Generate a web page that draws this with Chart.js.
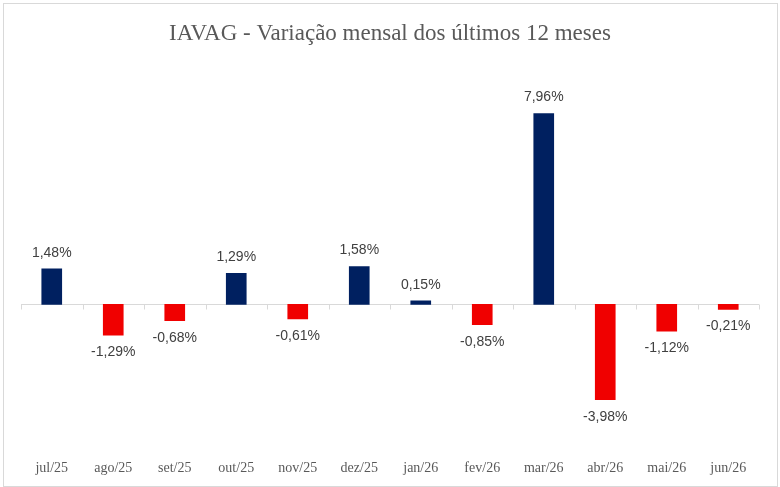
<!DOCTYPE html>
<html>
<head>
<meta charset="utf-8">
<script src="https://cdn.jsdelivr.net/npm/chart.js@4"></script>
<style>
  html, body { margin: 0; padding: 0; background: #fff; }
  #wrap { position: relative; width: 780px; height: 487px; }
  #frame { position: absolute; left: 3px; top: 3px; width: 773px; height: 482px; border: 1px solid #d9d9d9; pointer-events: none; }
</style>
</head>
<body>
<div id="wrap">
  <canvas id="iavagChart" width="780" height="487"></canvas>
  <div id="frame"></div>
</div>
<script>
const months = ['jul/25', 'ago/25', 'set/25', 'out/25', 'nov/25', 'dez/25', 'jan/26', 'fev/26', 'mar/26', 'abr/26', 'mai/26', 'jun/26'];
const variacao = [1.48, -1.29, -0.68, 1.29, -0.61, 1.58, 0.15, -0.85, 7.96, -3.98, -1.12, -0.21];

const NAVY = '#002060';
const RED = '#F00000';

// zero line + little ticks between categories, like the Excel axis
const zeroAxis = {
  id: 'zeroAxis',
  beforeDatasetsDraw(chart) {
    const { ctx, chartArea, scales } = chart;
    const y0 = Math.round(scales.y.getPixelForValue(0)) + 0.5;
    const x = scales.x;
    const step = (x.getPixelForValue(1) - x.getPixelForValue(0));
    ctx.save();
    ctx.strokeStyle = '#d9d9d9';
    ctx.lineWidth = 1;
    ctx.beginPath();
    ctx.moveTo(chartArea.left, y0);
    ctx.lineTo(chartArea.right, y0);
    for (let i = 0; i <= months.length; i++) {
      const xp = Math.round(x.getPixelForValue(0) - step / 2 + i * step) + 0.5;
      ctx.moveTo(xp, y0);
      ctx.lineTo(xp, y0 + 5);
    }
    ctx.stroke();
    ctx.restore();
  }
};

// value labels above / below each bar
const valueLabels = {
  id: 'valueLabels',
  afterDatasetsDraw(chart) {
    const { ctx } = chart;
    const meta = chart.getDatasetMeta(0);
    ctx.save();
    ctx.font = '14px "Liberation Sans", Arial, sans-serif';
    ctx.fillStyle = '#404040';
    ctx.textAlign = 'center';
    ctx.textBaseline = 'middle';
    meta.data.forEach((bar, i) => {
      const v = variacao[i];
      const txt = v.toFixed(2).replace('.', ',') + '%';
      const y = v >= 0 ? bar.y - 16 : bar.y + 17;
      ctx.fillText(txt, bar.x, y);
    });
    ctx.restore();
  }
};

const ctx = document.getElementById('iavagChart').getContext('2d');
const iavagChart = new Chart(ctx, {
  type: 'bar',
  data: {
    labels: months,
    datasets: [{
      data: variacao,
      backgroundColor: variacao.map(v => v >= 0 ? NAVY : RED),
      barThickness: 20,
      borderWidth: 0
    }]
  },
  options: {
    responsive: false,
    animation: false,
    layout: { padding: { left: 21, right: 21, top: 0, bottom: 6 } },
    plugins: {
      legend: { display: false },
      tooltip: { enabled: false },
      title: {
        display: true,
        text: 'IAVAG - Variação mensal dos últimos 12 meses',
        color: '#595959',
        font: { family: '"Liberation Serif", "Times New Roman", serif', size: 23, weight: 'normal' },
        padding: { top: 20, bottom: 17 }
      }
    },
    scales: {
      x: {
        grid: { display: false },
        border: { display: false },
        ticks: {
          color: '#595959',
          font: { family: '"Liberation Serif", "Times New Roman", serif', size: 14 },
          padding: 4,
          maxRotation: 0
        }
      },
      y: {
        display: false,
        min: -6,
        max: 10
      }
    }
  },
  plugins: [zeroAxis, valueLabels]
});
</script>
</body>
</html>
